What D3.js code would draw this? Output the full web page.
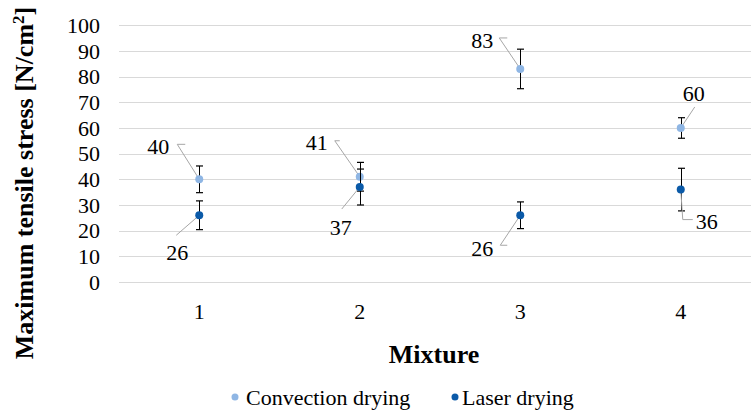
<!DOCTYPE html>
<html>
<head>
<meta charset="utf-8">
<script src="https://cdn.jsdelivr.net/npm/d3@7"></script>
<style>
  html, body { margin: 0; padding: 0; background: #fff; }
</style>
</head>
<body>
<div id="chart"></div>
<script>
// --- Data ---
const mixtures = ['1', '2', '3', '4'];
const yTicks = [0, 10, 20, 30, 40, 50, 60, 70, 80, 90, 100];
const convection = [40, 41, 83, 60];
const convectionErr = [5.2, 5.6, 7.7, 4.0];
const laser = [26, 37, 26, 36];
const laserErr = [5.6, 7.0, 5.2, 8.3];

// label placement (offset of label centre from its point, leader line points)
const convLabelPos = [
    { dx: -41, dy: -33, leader: [[-22, -35], [-14, -35]] },
    { dx: -43, dy: -34, leader: [[-25, -36], [-20, -36]] },
    { dx: -38, dy: -29, leader: [[-21, -31], [-13, -31]] },
    { dx: 13, dy: -35, leader: [[14, -21]] }
];
const laserLabelPos = [
    { dx: -22, dy: 37, leader: [[-23, 20]] },
    { dx: -19, dy: 40, leader: [[-18, 22]] },
    { dx: -38, dy: 33, leader: [[-20, 30], [-13, 30]] },
    { dx: 26, dy: 32, leader: [[2, 30], [12, 30]] }
];

const FONT = 'Liberation Serif';
const W = 751, H = 412;
const svg = d3.select('#chart').append('svg')
    .attr('width', W)
    .attr('height', H);

// serif text helper
function txt(sel, size, bold) {
    return sel.style('font-family', `'${FONT}', 'Times New Roman', Tinos, serif`)
        .style('font-size', size + 'px')
        .style('font-weight', bold ? 'bold' : 'normal')
        .attr('fill', '#000');
}

// --- Scales ---
const x = d3.scaleBand()
    .domain(mixtures)
    .range([119, 761]);

const y = d3.scaleLinear()
    .domain([0, 100])
    .range([282, 25.3]);

// --- Gridlines ---
svg.append('g')
    .selectAll('line')
    .data(yTicks)
    .enter().append('line')
    .attr('x1', 119).attr('x2', W)
    .attr('y1', d => Math.round(y(d)) + 0.5)
    .attr('y2', d => Math.round(y(d)) + 0.5)
    .attr('stroke', '#d9d9d9')
    .attr('stroke-width', 1);

// --- Y axis ---
const yAxis = svg.append('g')
    .attr('transform', 'translate(100,0)')
    .call(d3.axisLeft(y).tickValues(yTicks).tickSize(0).tickPadding(0));
yAxis.select('.domain').remove();
txt(yAxis.selectAll('text'), 22);

// --- X axis ---
const xAxis = svg.append('g')
    .attr('transform', 'translate(0,282)')
    .call(d3.axisBottom(x).tickSize(0).tickPadding(21));
xAxis.select('.domain').remove();
txt(xAxis.selectAll('text'), 22);

// --- Axis titles ---
txt(svg.append('text'), 26, true)
    .attr('x', 434)
    .attr('y', 363)
    .attr('text-anchor', 'middle')
    .text('Mixture');

const yTitle = txt(svg.append('text'), 26, true)
    .attr('transform', 'translate(33,183) rotate(-90)')
    .attr('text-anchor', 'middle');
yTitle.append('tspan').text('Maximum tensile stress [N/cm');
yTitle.append('tspan').attr('dy', -9).style('font-size', '17px').text('2');
yTitle.append('tspan').attr('dy', 9).text(']');

// --- Series ---
const series = [
    { name: 'Convection drying', values: convection, err: convectionErr, color: '#8fb6e4', labels: convLabelPos },
    { name: 'Laser drying', values: laser, err: laserErr, color: '#0b5aa8', labels: laserLabelPos }
];

series.forEach(s => {
    const g = svg.append('g');
    const pts = s.values.map((v, i) => ({
        cx: x(mixtures[i]) + x.bandwidth() / 2,
        v, e: s.err[i], lab: s.labels[i]
    }));

    // error bars
    pts.forEach(p => {
        const x0 = Math.round(p.cx) + 0.5;
        const yTop = y(p.v + p.e), yBot = y(p.v - p.e);
        g.append('line').attr('x1', x0).attr('x2', x0).attr('y1', yTop).attr('y2', yBot)
            .attr('stroke', '#000').attr('stroke-width', 1);
        [yTop, yBot].forEach(yy => {
            g.append('line').attr('x1', x0 - 3.5).attr('x2', x0 + 3.5).attr('y1', yy).attr('y2', yy)
                .attr('stroke', '#000').attr('stroke-width', 1.2);
        });
    });

    // leader lines
    pts.forEach(p => {
        const py = y(p.v);
        const line = [[p.cx, py]].concat(p.lab.leader.map(([dx, dy]) => [p.cx + dx, py + dy]));
        g.append('path')
            .attr('d', d3.line()(line))
            .attr('fill', 'none')
            .attr('stroke', '#a6a6a6')
            .attr('stroke-width', 1);
    });

    // points
    g.selectAll('circle')
        .data(pts)
        .enter().append('circle')
        .attr('cx', d => d.cx)
        .attr('cy', d => y(d.v))
        .attr('r', 4)
        .attr('fill', s.color);

    // data labels
    txt(g.selectAll('text.lbl')
        .data(pts)
        .enter().append('text'), 22)
        .attr('class', 'lbl')
        .attr('x', d => d.cx + d.lab.dx)
        .attr('y', d => y(d.v) + d.lab.dy)
        .attr('dy', '0.35em')
        .attr('text-anchor', 'middle')
        .text(d => d.v);
});

// --- Legend ---
const legendItems = [
    { name: series[0].name, color: series[0].color, mx: 235, tx: 246 },
    { name: series[1].name, color: series[1].color, mx: 455, tx: 462 }
];
legendItems.forEach(it => {
    svg.append('circle')
        .attr('cx', it.mx).attr('cy', 397).attr('r', 3.5)
        .attr('fill', it.color);
    txt(svg.append('text'), 22)
        .attr('x', it.tx).attr('y', 397)
        .attr('dy', '0.35em')
        .text(it.name);
});
</script>
</body>
</html>
